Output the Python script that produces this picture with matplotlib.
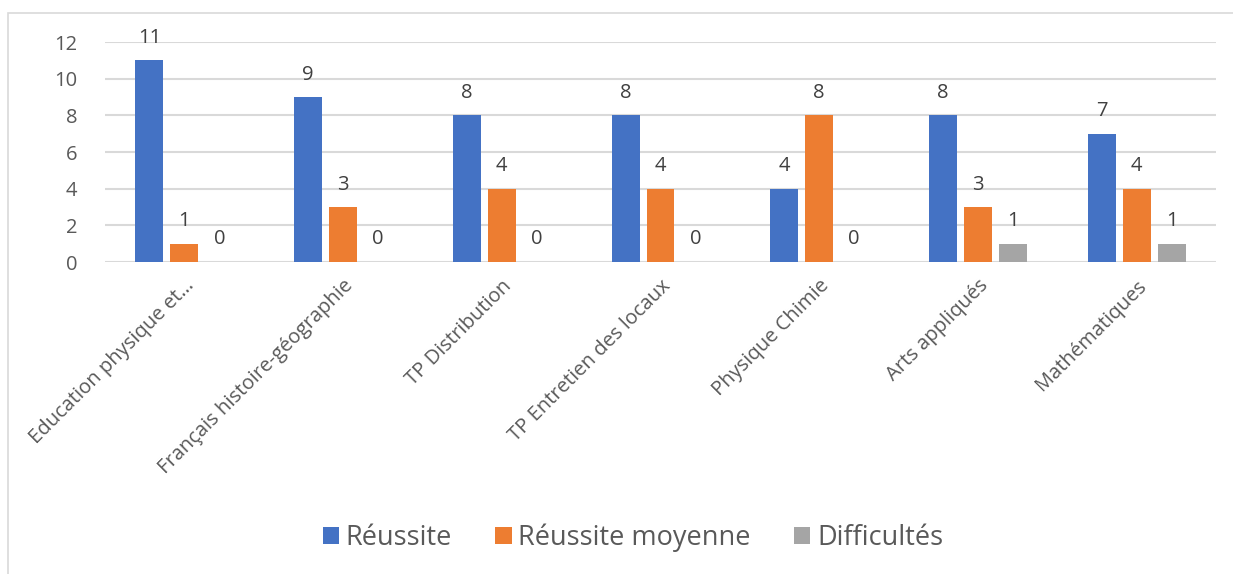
import numpy as np
import matplotlib.pyplot as plt
from matplotlib.patches import Rectangle

# data
categories = ["Education physique et…", "Français histoire-géographie", "TP Distribution",
              "TP Entretien des locaux", "Physique Chimie", "Arts appliqués", "Mathématiques"]
reussite = [11, 9, 8, 8, 4, 8, 7]
reussite_moyenne = [1, 3, 4, 4, 8, 3, 4]
difficultes = [0, 0, 0, 0, 0, 1, 1]

series = [("Réussite", reussite, "#4472C4"),
          ("Réussite moyenne", reussite_moyenne, "#ED7D31"),
          ("Difficultés", difficultes, "#A5A5A5")]

plt.rcParams['font.family'] = ['Open Sans', 'DejaVu Sans']

fig = plt.figure(figsize=(12.33, 5.74), dpi=100)
# outer chart frame
fig.patches.append(Rectangle((8 / 1233, -0.01), 1.0, (574 - 13) / 574 + 0.01,
                             transform=fig.transFigure, fill=False,
                             edgecolor="#d9d9d9", linewidth=1.2))

ax = fig.add_axes([105 / 1233, 1 - 262 / 574, (1216 - 105) / 1233, (262 - 42) / 574])

x = np.arange(len(categories))
w = 0.176
step = 0.22
for i, (name, vals, col) in enumerate(series):
    bars = ax.bar(x + (i - 1) * step, vals, width=w, color=col, label=name, zorder=3)
    for b, v in zip(bars, vals):
        ax.annotate(str(v), (b.get_x() + b.get_width() / 2, v), xytext=(0, 9),
                    textcoords="offset points", ha="center", va="bottom",
                    fontsize=14.5, color="#404040")

ax.set_xlim(-0.5, len(categories) - 0.5)
ax.set_ylim(0, 12)
ax.set_yticks(range(0, 13, 2))
ax.yaxis.grid(True, color="#d9d9d9", linewidth=1.5, zorder=0)
for s in ax.spines.values():
    s.set_visible(False)
ax.tick_params(axis="both", length=0, labelsize=14.5, colors="#595959")
ax.tick_params(axis="y", pad=20)
ax.set_xticks(x)
ax.set_xticklabels(categories, rotation=45, ha="right", rotation_mode="anchor")
ax.tick_params(axis="x", pad=10)

fig.legend(loc="center", bbox_to_anchor=(633 / 1233, 1 - 538 / 574), ncol=3,
           frameon=False, fontsize=19.5, handlelength=0.6, handleheight=0.6,
           handletextpad=0.25, columnspacing=1.6, labelcolor="#595959")

fig.savefig("out.png", dpi=100)
